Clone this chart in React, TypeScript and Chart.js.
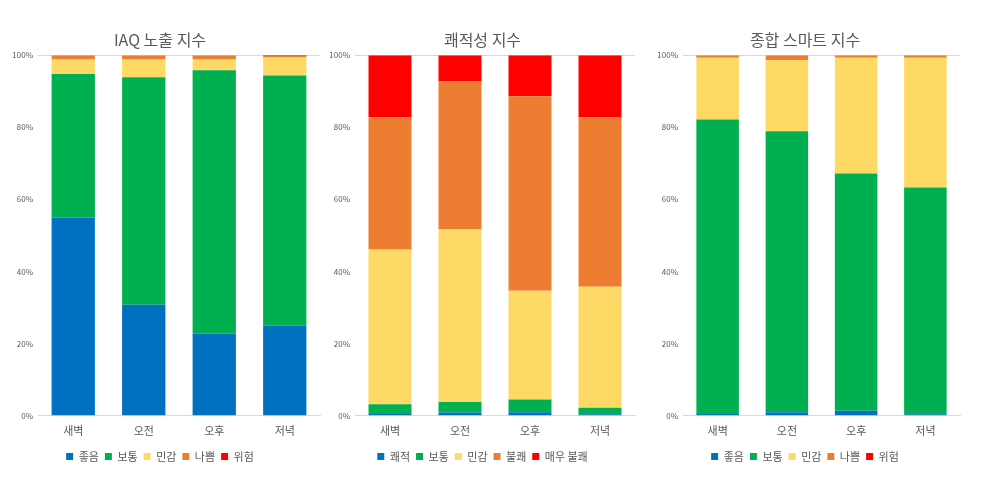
import React, { useEffect, useRef } from "react";
import { Chart, registerables } from "chart.js";

Chart.register(...registerables);

const categories = ["새벽", "오전", "오후", "저녁"];
const yTicks = [0, 20, 40, 60, 80, 100];

// IAQ 노출 지수
const iaqLabels = ["좋음", "보통", "민감", "나쁨", "위험"];
const iaqGood = [55.0, 30.8, 22.8, 25.0];
const iaqNormal = [39.8, 63.1, 73.0, 69.4];
const iaqSensitive = [4.0, 4.9, 3.0, 5.1];
const iaqBad = [1.2, 1.2, 1.2, 0.3];
const iaqDanger = [0.0, 0.0, 0.0, 0.2];

// 쾌적성 지수
const comfortLabels = ["쾌적", "보통", "민감", "불쾌", "매우 불쾌"];
const comfortPleasant = [0.5, 0.9, 1.0, 0.4];
const comfortNormal = [2.7, 2.9, 3.5, 1.8];
const comfortSensitive = [42.9, 47.9, 30.2, 33.6];
const comfortUnpleasant = [36.7, 41.1, 53.9, 47.0];
const comfortVeryUnpleasant = [17.2, 7.2, 11.4, 17.2];

// 종합 스마트 지수
const smartLabels = ["좋음", "보통", "민감", "나쁨", "위험"];
const smartGood = [0.5, 1.0, 1.4, 0.4];
const smartNormal = [81.7, 77.9, 65.8, 62.9];
const smartSensitive = [17.1, 19.8, 32.1, 36.0];
const smartBad = [0.7, 1.3, 0.7, 0.7];
const smartDanger = [0.0, 0.0, 0.0, 0.0];

const COLORS = ["#0070C0", "#00B050", "#FFD966", "#ED7D31", "#FF0000"];
const FONT = "'Noto Sans CJK KR', 'Noto Sans', sans-serif";
const TEXT = "#595959";

type Spec = {
  title: string;
  labels: string[];
  series: number[][];
  left: number;
  width: number;
  axisWidth: number;
  padRight: number;
};

const specs: Spec[] = [
  {
    title: "IAQ 노출 지수",
    labels: iaqLabels,
    series: [iaqGood, iaqNormal, iaqSensitive, iaqBad, iaqDanger],
    left: 0,
    width: 340,
    axisWidth: 38,
    padRight: 20,
  },
  {
    title: "쾌적성 지수",
    labels: comfortLabels,
    series: [comfortPleasant, comfortNormal, comfortSensitive, comfortUnpleasant, comfortVeryUnpleasant],
    left: 330,
    width: 320,
    axisWidth: 25,
    padRight: 15,
  },
  {
    title: "종합 스마트 지수",
    labels: smartLabels,
    series: [smartGood, smartNormal, smartSensitive, smartBad, smartDanger],
    left: 650,
    width: 332,
    axisWidth: 33,
    padRight: 22,
  },
];

function StackChart({ spec }: { spec: Spec }) {
  const ref = useRef<HTMLCanvasElement | null>(null);
  useEffect(() => {
    if (!ref.current) return;
    const chart = new Chart(ref.current, {
      type: "bar",
      data: {
        labels: categories,
        datasets: spec.series.map((d, i) => ({
          label: spec.labels[i],
          data: d,
          backgroundColor: COLORS[i],
          borderWidth: 0,
          barPercentage: 0.614,
          categoryPercentage: 1,
        })),
      },
      options: {
        animation: false,
        responsive: false,
        maintainAspectRatio: false,
        layout: { padding: { top: 0, right: spec.padRight, bottom: 9, left: 0 } },
        plugins: {
          title: {
            display: true,
            text: spec.title,
            color: TEXT,
            font: { family: FONT, size: 16, weight: "normal" },
            padding: { top: 30, bottom: 6 },
          },
          legend: {
            display: true,
            position: "bottom",
            labels: {
              color: TEXT,
              font: { family: FONT, size: 11 },
              usePointStyle: true,
              pointStyle: "rect",
              boxWidth: 7,
              boxHeight: 7,
              padding: 6,
            },
          },
          tooltip: { enabled: false },
        },
        scales: {
          x: {
            stacked: true,
            grid: { display: false, drawTicks: false },
            border: { display: true, color: "#d9d9d9", width: 1 },
            ticks: { color: TEXT, font: { family: FONT, size: 11 }, padding: 8 },
          },
          y: {
            stacked: true,
            min: 0,
            max: 100,
            afterBuildTicks: (scale: any) => {
              scale.ticks = yTicks.map((v) => ({ value: v }));
            },
            afterFit: (scale: any) => {
              scale.width = spec.axisWidth;
            },
            grid: {
              drawTicks: false,
              color: (ctx: any) => (ctx.tick && ctx.tick.value === 100 ? "#d9d9d9" : "rgba(0,0,0,0)"),
            },
            border: { display: false },
            ticks: {
              color: TEXT,
              font: { family: FONT, size: 8 },
              padding: 5,
              callback: (v: any) => v + "%",
            },
          },
        },
      },
    });
    return () => chart.destroy();
  }, [spec]);
  return (
    <canvas
      ref={ref}
      width={spec.width}
      height={481}
      style={{ position: "absolute", left: spec.left, top: 0, width: spec.width, height: 481 }}
    />
  );
}

export default function App() {
  useEffect(() => {
    document.body.style.margin = "0";
  }, []);
  return (
    <div style={{ position: "relative", width: 982, height: 481, background: "#fff" }}>
      {specs.map((s, i) => (
        <StackChart key={i} spec={s} />
      ))}
    </div>
  );
}
